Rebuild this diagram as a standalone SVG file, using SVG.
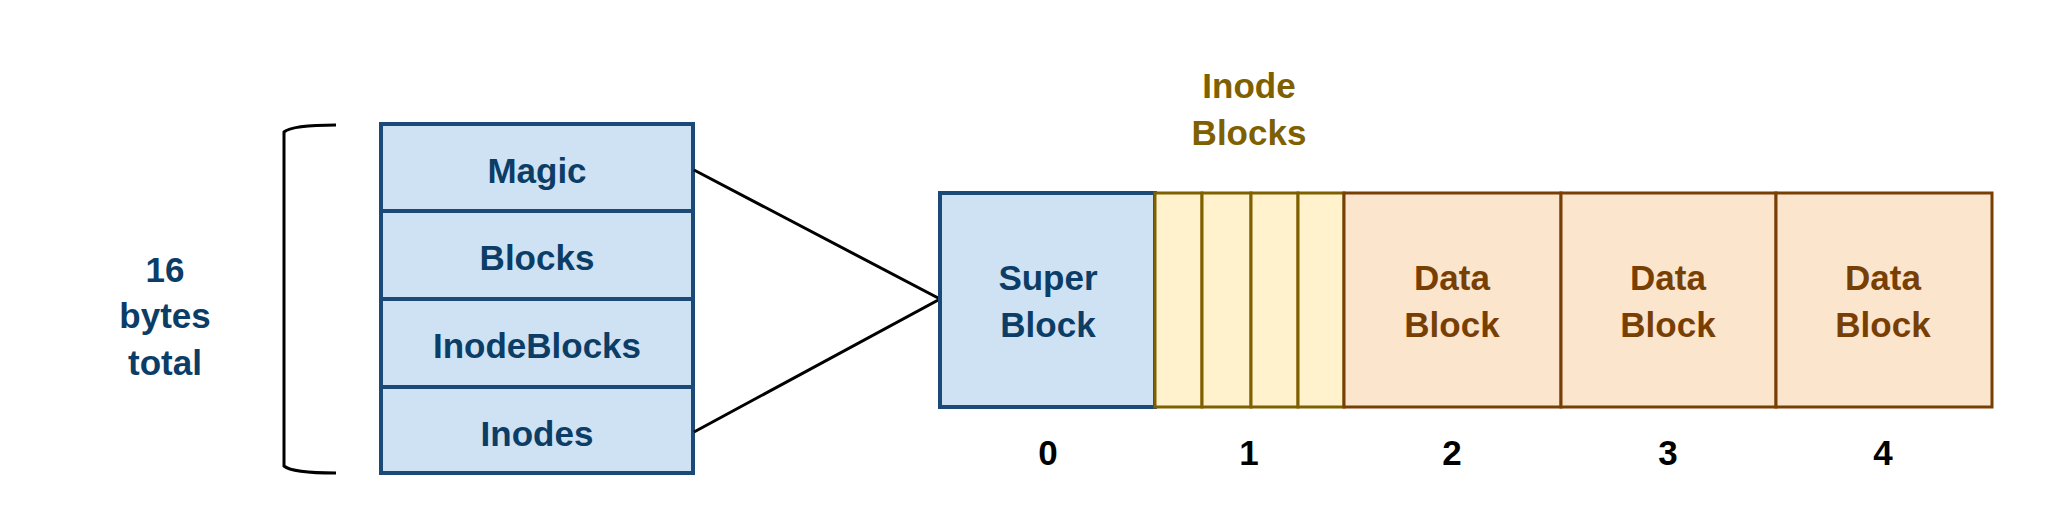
<svg xmlns="http://www.w3.org/2000/svg" width="2048" height="518" viewBox="0 0 2048 518">
<style>
text{font-family:"Liberation Sans",Arial,sans-serif;font-weight:bold;font-size:35px;text-anchor:middle}
.b{fill:#cfe2f3;stroke:#1c4a78;stroke-width:4}
.y{fill:#fff2cc;stroke:#7f6000;stroke-width:3}
.o{fill:#fce5cd;stroke:#783f04;stroke-width:3}
.tb{fill:#0b3d66}.ty{fill:#7f6000}.to{fill:#783f04}.tk{fill:#000}
.ln{fill:none;stroke:#000;stroke-width:3}
</style>
<rect width="2048" height="518" fill="#fff"/>
<g id="total"><text class="tb" x="165" y="282">16</text><text class="tb" x="165" y="328">bytes</text><text class="tb" x="165" y="375">total</text></g>
<g id="bracket"><path class="ln" d="M336,125 Q292,125 284,132 L284,466 Q292,473 336,473"/></g>
<g id="magic"><rect class="b" x="381" y="124" width="312" height="87"/><text class="tb" x="537" y="183">Magic</text></g>
<g id="blocks"><rect class="b" x="381" y="211" width="312" height="88"/><text class="tb" x="537" y="270">Blocks</text></g>
<g id="inodeblocks"><rect class="b" x="381" y="299" width="312" height="88"/><text class="tb" x="537" y="358">InodeBlocks</text></g>
<g id="inodes"><rect class="b" x="381" y="387" width="312" height="86"/><text class="tb" x="537" y="446">Inodes</text></g>
<g id="connectors"><path class="ln" d="M694,170 L940,299 L694,432"/></g>
<g id="super"><rect class="b" x="940" y="193" width="215" height="214"/><text class="tb" x="1048" y="290">Super</text><text class="tb" x="1048" y="337">Block</text></g>
<g id="inode-area"><rect class="y" x="1155" y="193" width="47" height="214"/><rect class="y" x="1202" y="193" width="49" height="214"/><rect class="y" x="1251" y="193" width="47" height="214"/><rect class="y" x="1298" y="193" width="46" height="214"/>
<text class="ty" x="1249" y="98">Inode</text><text class="ty" x="1249" y="145">Blocks</text></g>
<g id="data2"><rect class="o" x="1344" y="193" width="217" height="214"/><text class="to" x="1452" y="290">Data</text><text class="to" x="1452" y="337">Block</text></g>
<g id="data3"><rect class="o" x="1561" y="193" width="215" height="214"/><text class="to" x="1668" y="290">Data</text><text class="to" x="1668" y="337">Block</text></g>
<g id="data4"><rect class="o" x="1776" y="193" width="216" height="214"/><text class="to" x="1883" y="290">Data</text><text class="to" x="1883" y="337">Block</text></g>
<g id="indices"><text class="tk" x="1048" y="465">0</text><text class="tk" x="1249" y="465">1</text><text class="tk" x="1452" y="465">2</text><text class="tk" x="1668" y="465">3</text><text class="tk" x="1883" y="465">4</text></g>
</svg>
